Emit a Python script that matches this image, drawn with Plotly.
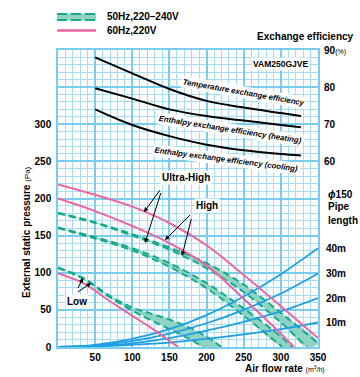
import plotly.graph_objects as go

# ---------------- data ----------------
flow_std = [0, 50, 100, 150, 200, 250, 300, 350]

# 60Hz, 220V fan curves (Pa)
uh60_flow = [0, 50, 100, 150, 200, 250, 300, 350]
uh60_pa = [219, 205, 189, 167, 137, 97, 55, 12]
h60_flow = [0, 50, 100, 150, 200, 250, 300, 318]
h60_pa = [200, 183, 163, 140, 110, 65, 18, 0]
l60_flow = [0, 34, 68, 100, 125, 149, 162]
l60_pa = [99, 86, 63, 42, 26, 9, 0]

# 50Hz fan curves, 240V (upper) and 220V (lower)
uh50_240_flow = [0, 50, 100, 150, 200, 250, 300, 350]
uh50_240_pa = [181, 168, 152, 134, 113, 84, 46, 5]
uh50_220_flow = [0, 50, 100, 150, 200, 250, 300, 335]
uh50_220_pa = [180, 167, 150, 131, 106, 74, 33, 0]
h50_240_flow = [0, 50, 100, 150, 200, 250, 300, 315]
h50_240_pa = [161, 148, 133, 113, 86, 52, 14, 0]
h50_220_flow = [0, 50, 100, 150, 200, 250, 302]
h50_220_pa = [160, 146, 130, 108, 79, 42, 0]
l50_240_flow = [0, 34, 68, 100, 125, 150, 175, 200, 220]
l50_240_pa = [107, 93, 70, 53, 45, 37, 27, 14, 0]
l50_220_flow = [0, 34, 68, 100, 125, 150, 175, 195]
l50_220_pa = [106, 92, 68, 49, 36, 24, 12, 0]

# duct resistance curves, phi150 pipe (Pa)
pipe_labels = ["40m", "30m", "20m", "10m"]
pipe_pa = {
    "40m": [0, 3, 11, 24, 43, 68, 98, 133],
    "30m": [0, 2, 8, 18, 32, 50, 72, 99],
    "20m": [0, 1, 5, 12, 22, 34, 48, 66],
    "10m": [0, 1, 3, 6, 11, 17, 24, 33],
}

# exchange efficiency (%)
eff_flow = [50, 100, 150, 200, 250, 300, 327]
eff_temp = [88, 83.7, 79.5, 76.3, 74.5, 73, 72.2]
eff_heat = [79.7, 76.9, 74, 72.2, 71, 69.8, 69.2]
eff_cool = [74, 69.8, 66.8, 64.5, 63, 62, 61.6]

x_ticks = [0, 50, 100, 150, 200, 250, 300, 350]
x_ticktext = ["", "50", "100", "150", "200", "250", "300", "350"]
y_ticks = [0, 50, 100, 150, 200, 250, 300, 350, 400]
y_ticktext = ["0", "50", "100", "150", "200", "250", "300", " ", " "]
y2_ticks = [60, 70, 80, 90]
y2_ticktext = ["60", "70", "80", "90<span style='font-size:7px;font-weight:normal'>(%)</span>"]

# ---------------- style ----------------
PINK = "#ec64a0"
TEAL = "#17a98b"
FILL = "#8fd3c3"
BLUE = "#1e9fe4"
GRID = "#a6ddf5"
GRIDMAJ = "#7bcdef"
FONT = "Liberation Sans, Arial, sans-serif"
NARROW = "Liberation Sans Narrow, Liberation Sans, sans-serif"

W, H = 360, 377
L, R, T, B = 58, 42, 50, 30
PW, PH = W - L - R, H - T - B


def px(x):
    return (x - L) / PW


def py(y):
    return (H - B - y) / PH


fig = go.Figure()


def band(f1, p1, f2, p2):
    fig.add_trace(go.Scatter(x=f1 + f2[::-1], y=p1 + p2[::-1], fill="toself",
                             fillcolor=FILL, line=dict(width=0, shape="spline"),
                             mode="lines", hoverinfo="skip", showlegend=False))


band(uh50_240_flow, uh50_240_pa, uh50_220_flow, uh50_220_pa)
band(h50_240_flow, h50_240_pa, h50_220_flow, h50_220_pa)
band(l50_240_flow, l50_240_pa, l50_220_flow, l50_220_pa)

for f, p in [(uh50_240_flow, uh50_240_pa), (uh50_220_flow, uh50_220_pa),
             (h50_240_flow, h50_240_pa), (h50_220_flow, h50_220_pa),
             (l50_240_flow, l50_240_pa), (l50_220_flow, l50_220_pa)]:
    fig.add_trace(go.Scatter(x=f, y=p, mode="lines", showlegend=False,
                             line=dict(color=TEAL, width=2, dash="7px,4px", shape="spline")))

for name in pipe_labels:
    fig.add_trace(go.Scatter(x=flow_std, y=pipe_pa[name], mode="lines", showlegend=False,
                             line=dict(color=BLUE, width=1.8, shape="spline")))

for f, p in [(uh60_flow, uh60_pa), (h60_flow, h60_pa), (l60_flow, l60_pa)]:
    fig.add_trace(go.Scatter(x=f, y=p, mode="lines", showlegend=False,
                             line=dict(color=PINK, width=2, shape="spline")))

for e in [eff_temp, eff_heat, eff_cool]:
    fig.add_trace(go.Scatter(x=eff_flow, y=e, yaxis="y2", mode="lines", showlegend=False,
                             line=dict(color="black", width=2, shape="spline")))

ann = []


def text(x, y, s, size=10, xanchor="center", angle=0, bg=None, family=FONT, color="black"):
    d = dict(x=px(x), y=py(y), xref="paper", yref="paper", text=s, showarrow=False,
             xanchor=xanchor, yanchor="middle", textangle=angle,
             font=dict(family=family, size=size, color=color))
    if bg:
        d["bgcolor"] = bg
        d["borderpad"] = 1
    ann.append(d)


def arrow(tx, ty, fx, fy):
    ann.append(dict(x=px(tx), y=py(ty), xref="paper", yref="paper", text=" ",
                    showarrow=True, ax=fx - tx, ay=fy - ty, arrowhead=2,
                    arrowsize=0.9, arrowwidth=1, arrowcolor="black"))


# legend
text(105, 16.5, "<b>50Hz,220\u2013240V</b>", size=10, xanchor="left")
text(105, 30.5, "<b>60Hz,220V</b>", size=10, xanchor="left")

# top right
text(356, 36, "<b>Exchange efficiency</b>", size=10, xanchor="right")
text(280, 64, "<b>VAM250GJVE</b>", size=8.5, bg="white")

# efficiency labels
text(244, 92, "<b><i>Temperature exchange efficiency</i></b>", size=7.8, angle=10, bg="white", family=NARROW)
text(230, 129, "<b><i>Enthalpy exchange efficiency (heating)</i></b>", size=7.8, angle=9, bg="white", family=NARROW)
text(226, 159, "<b><i>Enthalpy exchange efficiency (cooling)</i></b>", size=7.8, angle=7.5, bg="white", family=NARROW)

# arrows
arrow(144, 212, 163, 186)
arrow(145, 243, 163, 186)
arrow(165, 240, 193, 212)
arrow(182, 256, 193, 212)
arrow(83, 278, 75, 294)
arrow(91, 283, 75, 294)

# speed labels
text(186, 177, "<b>Ultra-High</b>", size=10, bg="white")
text(207, 205, "<b>High</b>", size=10, bg="white")
text(77, 301, "<b>Low</b>", size=10, bg="white")

# pipe labels
text(326, 194, "<b><i>\u03d5</i>150</b>", size=10, xanchor="left")
text(326, 207, "<b>Pipe</b>", size=10, xanchor="left")
text(326, 220, "<b>length</b>", size=10, xanchor="left")
for name in pipe_labels:
    ann.append(dict(x=350, y=pipe_pa[name][-1], xref="x", yref="y", text="<b>%s</b>" % name,
                    showarrow=False, xanchor="left", yanchor="middle", xshift=6,
                    font=dict(family=FONT, size=10, color="black")))

# axis titles
text(327, 368, "<b>Air flow rate</b> <span style='font-size:7px'>(m<sup>3</sup>/h)</span>",
     size=10, xanchor="right")
text(26, 232, "<b>External static pressure</b> <span style='font-size:8px'>(Pa)</span>",
     size=10, angle=-90)

shapes = [
    dict(type="rect", xref="paper", yref="paper", x0=px(57), x1=px(96), y0=py(20.5), y1=py(13.5),
         fillcolor=FILL, line=dict(width=0), layer="above"),
    dict(type="line", xref="paper", yref="paper", x0=px(57), x1=px(96), y0=py(14), y1=py(14),
         line=dict(color=TEAL, width=2, dash="10px,4px")),
    dict(type="line", xref="paper", yref="paper", x0=px(57), x1=px(96), y0=py(20), y1=py(20),
         line=dict(color=TEAL, width=2, dash="10px,4px")),
    dict(type="line", xref="paper", yref="paper", x0=px(57), x1=px(96), y0=py(30.5), y1=py(30.5),
         line=dict(color=PINK, width=2.5)),
]

fig.update_layout(
    width=W, height=H, margin=dict(l=L, r=R, t=T, b=B, pad=0),
    paper_bgcolor="white", plot_bgcolor="white",
    font=dict(family=FONT, size=10, color="black"),
    showlegend=False, annotations=ann, shapes=shapes,
    xaxis=dict(range=[0, 350], tickvals=x_ticks, ticktext=x_ticktext, ticks="",
               showgrid=True, gridcolor=GRIDMAJ, gridwidth=1.5, zeroline=False,
               showline=True, linecolor=GRIDMAJ, linewidth=1.5, mirror=True,
               tickfont=dict(family=FONT, size=10, weight="bold"),
               minor=dict(dtick=10, showgrid=True, gridcolor=GRID, gridwidth=1)),
    yaxis=dict(range=[0, 400], tickvals=y_ticks, ticktext=y_ticktext, ticks="",
               showgrid=True, gridcolor=GRIDMAJ, gridwidth=1.5, zeroline=False,
               showline=True, linecolor=GRIDMAJ, linewidth=1.5, mirror=True,
               tickfont=dict(family=FONT, size=10, weight="bold"), ticklabelstandoff=3,
               minor=dict(dtick=10, showgrid=True, gridcolor=GRID, gridwidth=1)),
    yaxis2=dict(range=[10, 90], overlaying="y", side="right", tickvals=y2_ticks,
                ticktext=y2_ticktext, ticks="", showgrid=False, zeroline=False,
                tickfont=dict(family=FONT, size=10, weight="bold"), ticklabelstandoff=5),
)

fig.write_html("out.html", config={"displayModeBar": False},
               post_script="document.body.style.margin='0';document.body.style.overflow='hidden';")
